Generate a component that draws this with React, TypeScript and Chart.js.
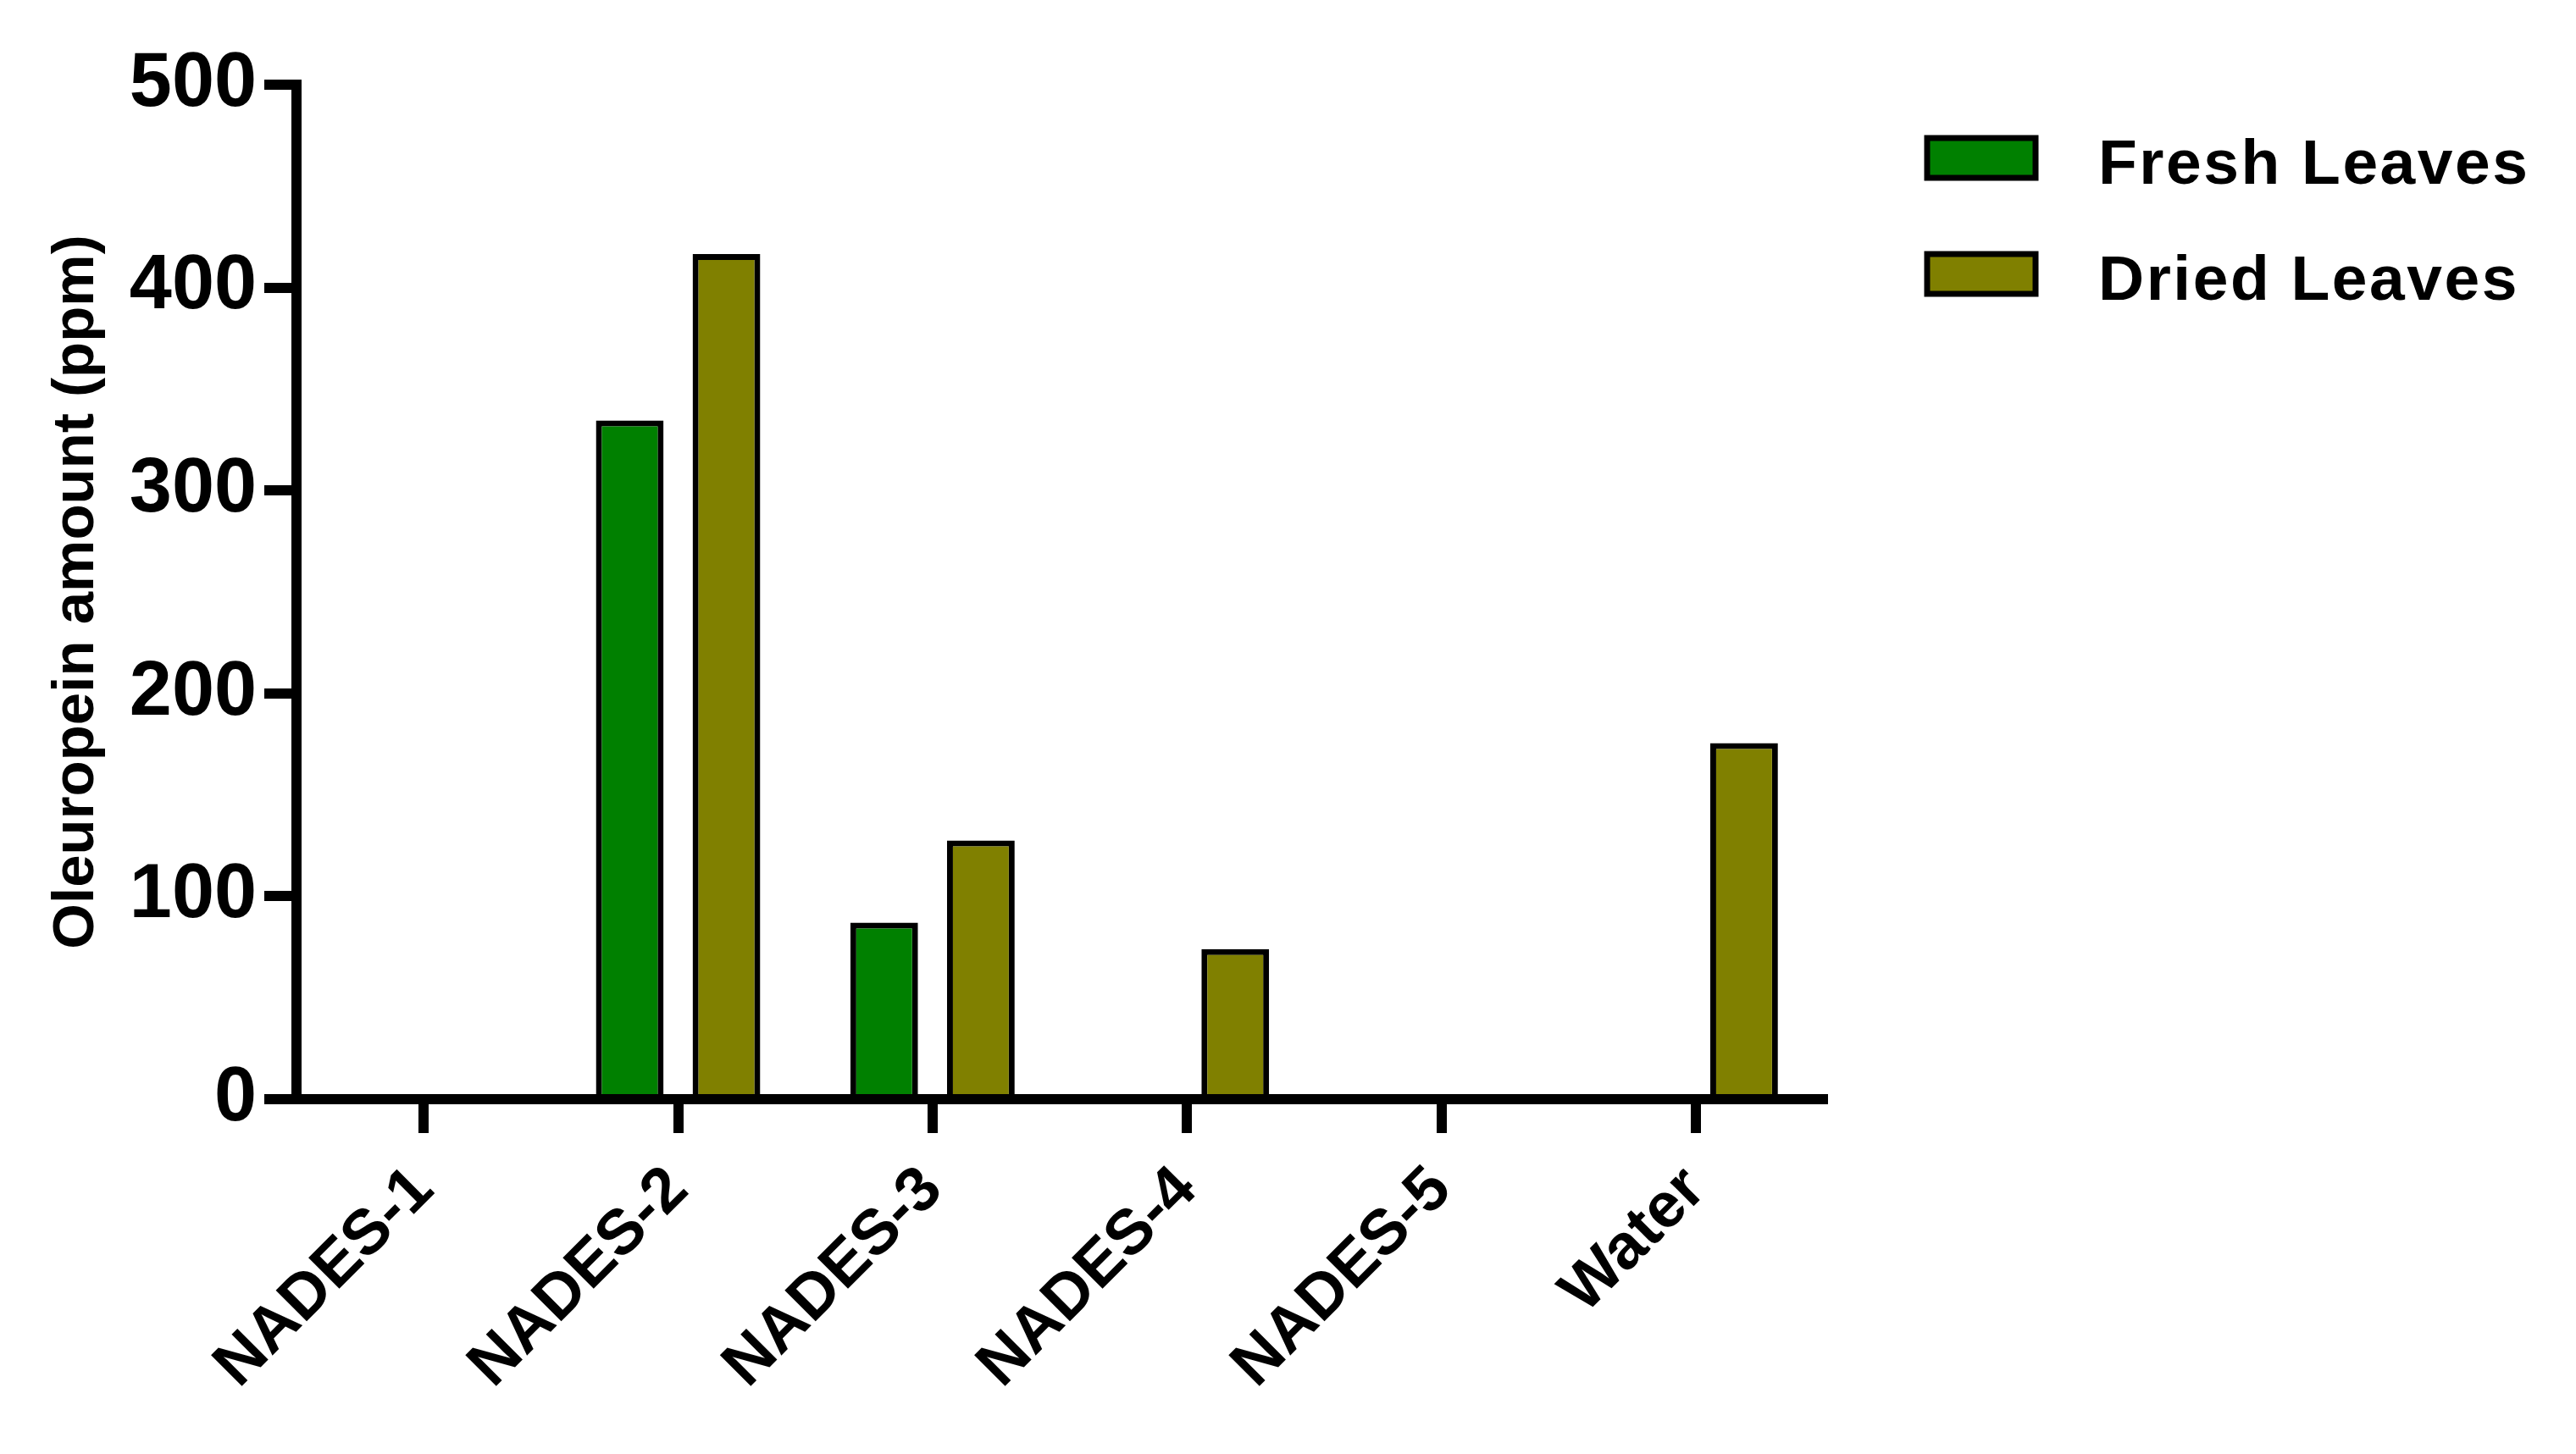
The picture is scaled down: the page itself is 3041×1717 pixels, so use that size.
import React, { useEffect, useRef } from "react";
import { Chart, registerables } from "chart.js";

Chart.register(...registerables);

const categories = ["NADES-1", "NADES-2", "NADES-3", "NADES-4", "NADES-5", "Water"];
const freshLeaves: (number | null)[] = [null, 334.5, 87, null, null, null];
const driedLeaves: (number | null)[] = [null, 416.5, 127.5, 74, null, 175.5];
const seriesNames = ["Fresh Leaves", "Dried Leaves"];
const seriesColors = ["#008000", "#808000"];
const yTicks = [0, 100, 200, 300, 400, 500];
const yTitle = "Oleuropein amount (ppm)";

const W = 3041;
const H = 1717;
const FONT = '"Liberation Sans", Arial, sans-serif';

const legendPlugin = {
  id: "customLegend",
  afterDraw(chart: any) {
    const ctx = chart.ctx;
    ctx.save();
    const boxX = 2275;
    const boxW = 128;
    const boxH = 47;
    const rowTops = [163, 300];
    chart.data.datasets.forEach((ds: any, i: number) => {
      const top = rowTops[i];
      ctx.fillStyle = ds.backgroundColor;
      ctx.fillRect(boxX, top, boxW, boxH);
      ctx.lineWidth = 7;
      ctx.strokeStyle = "#000";
      ctx.strokeRect(boxX, top, boxW, boxH);
      ctx.fillStyle = "#000";
      ctx.font = `bold 75px ${FONT}`;
      ctx.textBaseline = "alphabetic";
      ctx.textAlign = "left";
      try {
        (ctx as any).letterSpacing = "2.5px";
      } catch (e) {}
      ctx.fillText(ds.label, 2477, top + 54);
      try {
        (ctx as any).letterSpacing = "0px";
      } catch (e) {}
    });
    ctx.restore();
  },
};

export default function App() {
  const ref = useRef<HTMLCanvasElement | null>(null);
  useEffect(() => {
    document.body.style.margin = "0";
    document.body.style.overflow = "hidden";
    const canvas = ref.current!;
    const chart = new Chart(canvas, {
      type: "bar",
      data: {
        labels: categories,
        datasets: [
          {
            label: seriesNames[0],
            data: freshLeaves,
            backgroundColor: seriesColors[0],
            borderColor: "#000",
            borderWidth: 7,
            categoryPercentage: 0.76,
            barPercentage: 0.7,
          },
          {
            label: seriesNames[1],
            data: driedLeaves,
            backgroundColor: seriesColors[1],
            borderColor: "#000",
            borderWidth: 7,
            categoryPercentage: 0.76,
            barPercentage: 0.7,
          },
        ],
      },
      options: {
        responsive: false,
        animation: false,
        devicePixelRatio: 1,
        layout: { padding: { top: 100, right: W - 2152, bottom: 0, left: 0 } },
        plugins: { legend: { display: false }, tooltip: { enabled: false } },
        scales: {
          x: {
            offset: true,
            grid: {
              display: true,
              offset: false,
              drawOnChartArea: false,
              drawTicks: true,
              tickLength: 40,
              lineWidth: 12,
              color: "#000",
            },
            border: { display: true, width: 12, color: "#000" },
            ticks: {
              autoSkip: false,
              maxRotation: 45,
              minRotation: 45,
              padding: 23,
              color: "#000",
              font: { family: FONT, size: 75, weight: "bold" },
            },
            afterFit: (scale: any) => {
              scale.height = H - 1298;
            },
          },
          y: {
            min: 0,
            max: 500,
            afterBuildTicks: (scale: any) => {
              scale.ticks = yTicks.map((v) => ({ value: v }));
            },
            grid: {
              display: true,
              drawOnChartArea: false,
              drawTicks: true,
              tickLength: 38,
              lineWidth: 12,
              color: "#000",
            },
            border: { display: true, width: 12, color: "#000" },
            ticks: {
              padding: 9,
              color: "#000",
              font: { family: FONT, size: 90, weight: "bold" },
            },
            title: {
              display: true,
              text: yTitle,
              color: "#000",
              font: { family: FONT, size: 69, weight: "bold" },
              padding: { top: 50, bottom: 0 },
            },
            afterFit: (scale: any) => {
              scale.width = 350;
            },
          },
        },
      },
      plugins: [legendPlugin],
    } as any);
    return () => chart.destroy();
  }, []);
  return (
    <div style={{ position: "absolute", left: 0, top: 0, width: W, height: H, background: "#fff" }}>
      <canvas ref={ref} width={W} height={H} style={{ width: W, height: H, display: "block" }} />
    </div>
  );
}
